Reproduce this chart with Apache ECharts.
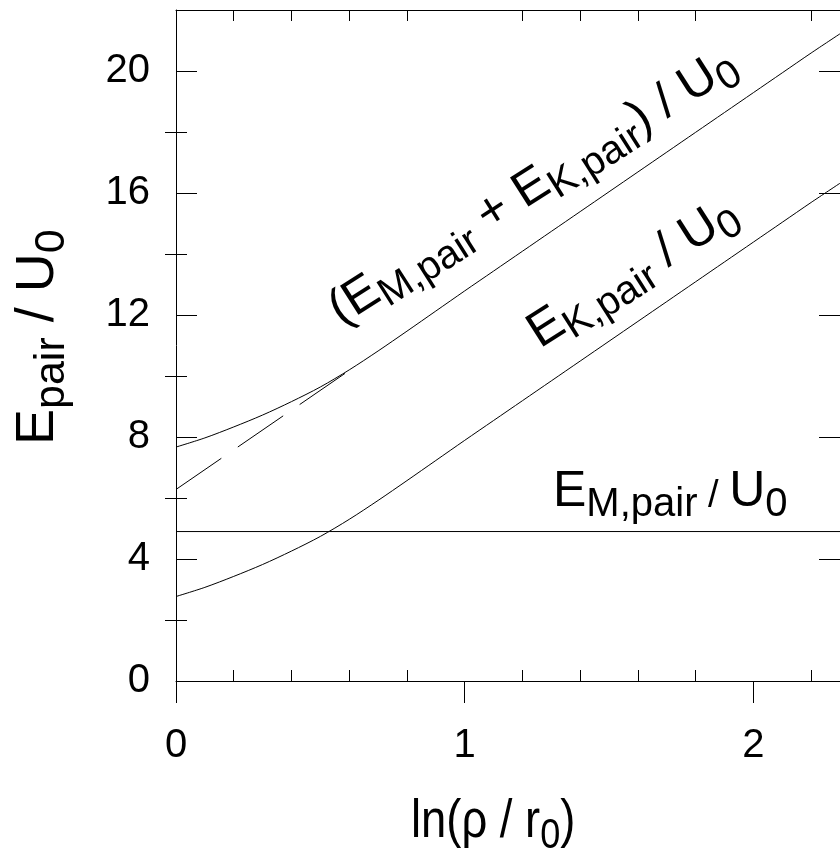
<!DOCTYPE html>
<html><head><meta charset="utf-8">
<script src="https://cdn.jsdelivr.net/npm/echarts@6/dist/echarts.min.js"></script>
<style>html,body{margin:0;padding:0;background:#fff}#c{width:840px;height:865px}</style>
</head><body><div id="c"></div>
<script>
// ---- data ----
const xValues = [0,0.1,0.2,0.3,0.4,0.5,0.6,0.7,0.8,0.9,1.0,1.1,1.2,1.3,1.4,1.5,1.6,1.7,1.8,1.9,2.0,2.1,2.2,2.3];
const totalEnergy = [7.67,7.97,8.33,8.72,9.16,9.64,10.2,10.82,11.47,12.13,12.79,13.44,14.09,14.74,15.39,16.04,16.69,17.34,17.99,18.64,19.29,19.94,20.59,21.22];
const kineticEnergy = [2.77,3.07,3.43,3.82,4.26,4.74,5.3,5.92,6.57,7.23,7.89,8.54,9.19,9.84,10.49,11.14,11.79,12.44,13.09,13.74,14.39,15.04,15.69,16.32];
const mEnergyX = [0, 2.3];
const mEnergy = [4.9, 4.9];
const asymptoteX = [0, 0.6];
const asymptote = [6.28, 10.18];
const xMajorTicks = [0,1,2];
const xMinorTicks = [0.2,0.4,0.6,0.8,1.2,1.4,1.6,1.8,2.2];
const yMajorTicks = [0,4,8,12,16,20];
const yMinorTicks = [2,6,10,14,18];

const zip = (xs, ys) => xs.map((x,i)=>[x, ys[i]]);
const SANS = "'Liberation Sans', Arial, sans-serif";

const measureCtx = document.createElement('canvas').getContext('2d');
function textWidth(t, size, fam){ measureCtx.font = size + 'px ' + fam; return measureCtx.measureText(t).width; }
// parts: [text, kind] with kind m = main, s = subscript, z = small slash
function buildLabel(parts, bx, by, deg, F, fam, sx){
  const S = Math.round(F*0.8), drop = 0.18*F;
  let cx = 0; const children = [];
  parts.forEach(([t, kind])=>{
    const size = kind === 's' ? S : kind === 'z' ? Math.round(F*0.75) : F;
    const base = kind === 's' ? drop : 0;
    children.push({type:'text', x: cx, y: base - 0.35*size, z: 100,
      style:{text: t, fontSize: size, fontFamily: fam, fill:'#000', align:'left', verticalAlign:'middle'}});
    cx += textWidth(t, size, fam);
  });
  return {type:'group', x: bx, y: by, rotation: deg*Math.PI/180, scaleX: sx || 1, children: children};
}

const axisCommon = {type:'value', splitLine:{show:false}, axisLabel:{show:false}, axisLine:{show:false}};
const tickStyle = {color:'#000', width:1};

const chart = echarts.init(document.getElementById('c'), null, {renderer:'canvas'});
chart.setOption({
  animation: false,
  backgroundColor: '#fff',
  grid: {left: 176, top: 10, right: -8, bottom: 184, containLabel: false},
  xAxis: [
    {type:'value', min:0, max:2.3, position:'bottom', splitLine:{show:false},
     axisLine:{show:true, onZero:false, lineStyle:tickStyle},
     axisTick:{show:true, inside:false, length:22, customValues:xMajorTicks, lineStyle:tickStyle},
     axisLabel:{show:true, customValues:xMajorTicks, margin:45, fontSize:40, fontFamily:SANS, color:'#000'}},
    Object.assign({}, axisCommon, {min:0, max:2.3, position:'bottom',
     axisTick:{show:true, inside:true, length:11, customValues:xMinorTicks, lineStyle:tickStyle}}),
    Object.assign({}, axisCommon, {min:0, max:2.3, position:'top',
     axisLine:{show:true, onZero:false, lineStyle:tickStyle},
     axisTick:{show:true, inside:true, length:11, customValues:xMinorTicks, lineStyle:tickStyle}})
  ],
  yAxis: [
    {type:'value', min:0, max:22, position:'left', splitLine:{show:false},
     axisLine:{show:true, onZero:false, lineStyle:tickStyle},
     axisTick:{show:true, inside:true, length:21, customValues:yMajorTicks, lineStyle:tickStyle},
     axisLabel:{show:true, customValues:yMajorTicks, margin:26, fontSize:40, fontFamily:SANS, color:'#000'}},
    Object.assign({}, axisCommon, {min:0, max:22, position:'left',
     axisTick:{show:true, inside:true, length:11, customValues:yMinorTicks, lineStyle:tickStyle}}),
    Object.assign({}, axisCommon, {min:0, max:22, position:'right',
     axisLine:{show:true, onZero:false, lineStyle:tickStyle},
     axisTick:{show:true, inside:true, length:21, customValues:yMajorTicks, lineStyle:tickStyle}}),
    Object.assign({}, axisCommon, {min:0, max:22, position:'right',
     axisTick:{show:true, inside:true, length:11, customValues:yMinorTicks, lineStyle:tickStyle}})
  ],
  series: [
    {type:'line', name:'total', data: zip(xValues, totalEnergy), showSymbol:false, smooth:0.3,
     lineStyle:{color:'#000', width:1}},
    {type:'line', name:'kinetic', data: zip(xValues, kineticEnergy), showSymbol:false, smooth:0.3,
     lineStyle:{color:'#000', width:1}},
    {type:'line', name:'M', data: zip(mEnergyX, mEnergy), showSymbol:false,
     lineStyle:{color:'#000', width:1}},
    {type:'line', name:'asymptote', data: zip(asymptoteX, asymptote), showSymbol:false,
     lineStyle:{color:'#000', width:1, type:[55,20]}}
  ],
  graphic: [
    buildLabel([['(E','m'],['M,pair','s'],[' + E','m'],['K,pair','s'],[') / U','m'],['0','s']], 343, 329, 32.5, 50, SANS),
    buildLabel([['E','m'],['K,pair','s'],[' / U','m'],['0','s']], 542, 352, 32.5, 50, SANS),
    buildLabel([['E','m'],['M,pair','s'],[' / ','z'],['U','m'],['0','s']], 553, 510, 0, 50, SANS),
    buildLabel([['ln(ρ / r','m'],['0','s'],[')','m']], 411, 841, 0, 54, SANS, 0.84),
    buildLabel([['E','m'],['pair','s'],[' / U','m'],['0','s']], 57, 445, 90, 54, SANS)
  ]
});
</script>
</body></html>
